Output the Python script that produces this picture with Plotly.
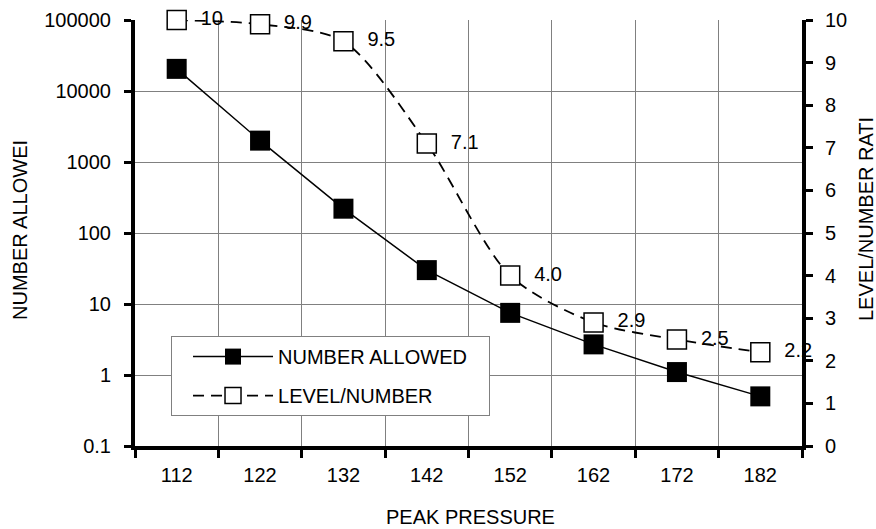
import plotly.graph_objects as go

categories = ["112", "122", "132", "142", "152", "162", "172", "182"]
number_allowed = [20500, 2000, 220, 30, 7.5, 2.7, 1.1, 0.5]
level_number = [10, 9.9, 9.5, 7.1, 4.0, 2.9, 2.5, 2.2]
level_labels = ["10", "9.9", "9.5", "7.1", "4.0", "2.9", "2.5", "2.2"]
left_ticks = [0.1, 1, 10, 100, 1000, 10000, 100000]
left_tick_text = ["0.1", "1", "10", "100", "1000", "10000", "100000"]

FONT = "Liberation Sans, Arial, sans-serif"
FS = 20
NB = "\u00a0"

fig = go.Figure()
fig.add_trace(go.Scatter(
    x=categories, y=number_allowed, name="NUMBER ALLOWED" + NB * 3,
    mode="lines+markers", legendgroup="a",
    line=dict(color="black", width=1.5),
    marker=dict(symbol="square", size=20, color="black"),
    yaxis="y",
))
fig.add_trace(go.Scatter(
    x=categories, y=level_number, name="LEVEL/NUMBER",
    mode="lines+markers+text", legendgroup="b",
    text=[NB * 2 + t for t in level_labels], textposition="middle right",
    textfont=dict(family=FONT, size=FS, color="black"),
    cliponaxis=False,
    line=dict(color="black", width=1.8, dash="11px,7px", shape="spline", smoothing=0.8),
    marker=dict(symbol="square", size=19, color="white", line=dict(color="black", width=1.5)),
    yaxis="y2",
))

fig.update_layout(
    template="none",
    width=876, height=529,
    margin=dict(l=135, r=74, t=20, b=83, autoexpand=False),
    paper_bgcolor="white", plot_bgcolor="white",
    font=dict(family=FONT, size=FS, color="black"),
    showlegend=True,
    legend=dict(
        x=0.054, y=0.258, xanchor="left", yanchor="top",
        bgcolor="white", bordercolor="#808080", borderwidth=1,
        font=dict(family=FONT, size=FS, color="black"),
        itemwidth=80, traceorder="grouped", tracegroupgap=10,
        indentation=16,
    ),
    xaxis=dict(
        type="category", range=[-0.5, 7.5], tickson="boundaries",
        showgrid=True, gridcolor="#808080", gridwidth=1,
        showline=True, linecolor="black", linewidth=4,
        ticks="outside", ticklen=8, tickwidth=3, tickcolor="black",
        ticklabelstandoff=8, automargin=False,
        zeroline=False,
    ),
    yaxis=dict(
        type="log", range=[-1, 5],
        tickvals=left_ticks, ticktext=left_tick_text,
        showgrid=True, gridcolor="#808080", gridwidth=1,
        showline=True, linecolor="black", linewidth=4,
        ticks="outside", ticklen=7, tickwidth=3, tickcolor="black",
        ticklabelstandoff=9, automargin=False,
        zeroline=False,
    ),
    yaxis2=dict(
        overlaying="y", side="right", range=[0, 10], dtick=1,
        showgrid=False,
        showline=True, linecolor="black", linewidth=4,
        ticks="outside", ticklen=7, tickwidth=3, tickcolor="black",
        ticklabelstandoff=8, automargin=False,
        zeroline=False,
    ),
    annotations=[
        dict(text="PEAK PRESSURE", xref="paper", yref="paper",
             x=(470 - 135) / 667, y=(446 - 517) / 426,
             xanchor="center", yanchor="middle", showarrow=False,
             font=dict(family=FONT, size=FS)),
        dict(text="NUMBER ALLOWEI", xref="paper", yref="paper",
             x=(20 - 135) / 667, y=(446 - 230) / 426, textangle=-90,
             xanchor="center", yanchor="middle", showarrow=False,
             font=dict(family=FONT, size=FS)),
        dict(text="LEVEL/NUMBER RATI", xref="paper", yref="paper",
             x=(866 - 135) / 667, y=(446 - 219) / 426, textangle=-90,
             xanchor="center", yanchor="middle", showarrow=False,
             font=dict(family=FONT, size=FS)),
    ],
)

fig.write_html("out.html", config={"displayModeBar": False},
               post_script="document.body.style.margin='0px';")
